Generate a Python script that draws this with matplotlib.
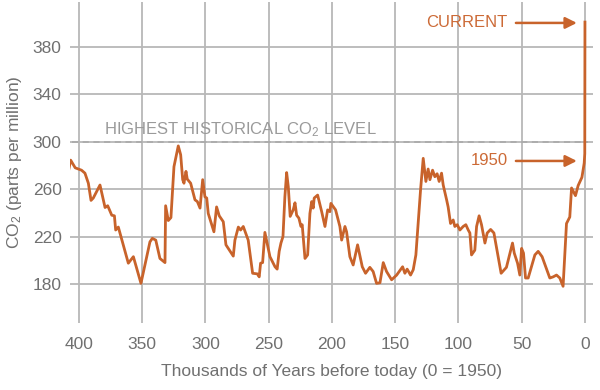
import matplotlib
matplotlib.use("Agg")
import matplotlib.pyplot as plt

plt.rcParams['font.family'] = ['Liberation Sans', 'DejaVu Sans']
plt.rcParams['mathtext.fontset'] = 'custom'
plt.rcParams['mathtext.rm'] = 'Liberation Sans'
plt.rcParams['mathtext.it'] = 'Liberation Sans:italic'
plt.rcParams['mathtext.bf'] = 'Liberation Sans:bold'

# Thousands of years before 1950 and CO2 in ppm
years_k = [408, 406.6, 403, 398, 395.3, 392.6, 390.5, 388.7, 383.4, 379.4, 377.3, 374.1,
           372, 371, 368.9, 361, 357, 351, 343.9, 342, 339.3, 336, 332, 331.5, 329.4,
           327.3, 324.9, 321.5, 319.6, 318, 317, 315.4, 314.4, 311.7, 308.3, 306.4,
           304.3, 302.2, 300.4, 299, 297.8, 293.3, 291.2, 289.1, 285.9, 283.8, 278,
           276.7, 274, 272.2, 270.1, 266.2, 262.7, 259, 257.5, 256.4, 254.8, 253, 249,
           245, 243.3, 241.7, 240.3, 238.7, 237.2, 235.8, 234.5, 233, 230.6, 229.2,
           227.9, 226.1, 224.5, 223.5, 221.3, 219.2, 217.4, 216, 214.8, 214, 211.3,
           208.1, 205.5, 203.4, 201.6, 200.8, 197.1, 193.7, 192.3, 189.7, 188.4,
           185.8, 183.2, 179.7, 176, 173.4, 170, 167.4, 164.7, 162, 159.4, 156.8,
           152.8, 148.8, 144.1, 142.3, 140.5, 137.8, 135.7, 133.6, 129.9, 127.8,
           125.7, 123.9, 122.5, 120.4, 118.6, 116.8, 115.2, 113.3, 112, 109.3, 108.1,
           106.2, 104.1, 102.8, 100.9, 98.8, 96.2, 94.1, 92.2, 90.9, 89.6, 87, 85.6,
           83.6, 81.7, 79, 77.2, 74.5, 71.9, 66.2, 62, 57.2, 55.8, 53.2, 51.4, 50,
           48.5, 46.9, 44.8, 39.5, 36.9, 33.8, 27.7, 25, 22.4, 19.8, 17.2, 14.5,
           11.9, 10.5, 7.4, 5.3, 2.3, 0.5, 0.05, -0.1]
co2_ppm = [277, 284.5, 278, 276, 273.5, 265, 250.5, 252.5, 263.5, 244.5, 246, 238,
           237.5, 225.5, 228, 197.5, 203, 180.5, 215.5, 218.5, 217, 201.5, 198, 246,
           233.5, 236, 279, 296.5, 289, 268, 265, 275, 268.5, 265, 251, 249.5, 244,
           268, 253.5, 252.5, 239.5, 224, 245, 237.5, 232.5, 213, 203.5, 217, 228,
           225.5, 228.5, 217, 189, 188.5, 186, 197.5, 198, 223.5, 203, 194.5, 192.5,
           207.5, 214.5, 220, 253.5, 274, 262, 237, 242.5, 248.5, 238, 235.5, 228.5,
           230, 201.5, 204.5, 239.5, 249.5, 244, 252.5, 255, 241, 228.5, 242.5, 241,
           248, 242.5, 228.5, 217, 228.5, 224, 203, 196, 213, 194.5, 189, 194,
           190.5, 180.5, 181, 198, 190.5, 183.5, 187.5, 194.5, 189, 192.5, 187.5,
           192, 204.5, 259.5, 286, 266.5, 277, 268, 276, 270.5, 273, 266.5, 273.5,
           263.5, 251, 245, 231, 234, 228.5, 230, 225.5, 228.5, 230, 225.5, 223,
           204.5, 208.5, 228.5, 237.5, 230, 214.5, 223, 226, 223, 189, 194, 214.5,
           206, 197.5, 187.5, 210, 206, 185, 185, 204.5, 207.5, 203, 185, 186, 187.5,
           185, 178, 231, 236.5, 261, 254.5, 263, 270, 282, 290, 401]

x_ticks = [400, 350, 300, 250, 200, 150, 100, 50, 0]
y_ticks = [180, 220, 260, 300, 340, 380]
highest_level = 300
current_level = 400.3
level_1950 = 283.8

line_color = '#c8632b'
text_grey = '#707070'
grid_grey = '#b8b8b8'

fig = plt.figure(figsize=(6, 3.9), dpi=100)
ax = fig.add_axes([0.1167, 0.172, 0.8713, 0.823])
ax.set_xlim(407.1, -6.3)
ax.set_ylim(147.1, 418)

ax.set_xticks(x_ticks)
ax.set_xticklabels([str(v) for v in x_ticks])
ax.set_yticks(y_ticks)
ax.set_yticklabels([str(v) for v in y_ticks])
ax.grid(True, color=grid_grey, lw=1.3, zorder=0)
ax.set_axisbelow(True)
for s in ax.spines.values():
    s.set_visible(False)
ax.tick_params(axis='both', length=0, labelsize=12.5, labelcolor=text_grey)
ax.tick_params(axis='x', pad=10)
ax.tick_params(axis='y', pad=6)

ax.set_xlabel('Thousands of Years before today (0 = 1950)', fontsize=12.5,
              color=text_grey, labelpad=9)
ax.set_ylabel(r'CO$_\mathregular{2}$ (parts per million)', fontsize=12.5,
              color=text_grey, labelpad=6)

# dashed line of highest historical level
ax.plot([405.5, -2.4], [highest_level, highest_level], ls=(0, (4, 3)),
        color='#a8a8a8', lw=1.1, zorder=2)
ax.text(380.2, 310, r'HIGHEST HISTORICAL CO$_\mathregular{2}$ LEVEL', fontsize=12,
        color='#9a9a9a', ha='left', va='center')

ax.plot(years_k, co2_ppm, color=line_color, lw=2.0, zorder=3,
        solid_joinstyle='round')

# annotations
for label, lvl in [('CURRENT', current_level), ('1950', level_1950)]:
    ax.text(61.0, lvl, label, fontsize=12, color='#cc6a36', ha='right', va='center')
    ax.annotate('', xy=(6.3, lvl), xytext=(54.5, lvl),
                arrowprops=dict(arrowstyle='-|>', color=line_color, lw=1.8,
                                mutation_scale=17, shrinkA=0, shrinkB=0))

fig.savefig('out.png', dpi=100)
